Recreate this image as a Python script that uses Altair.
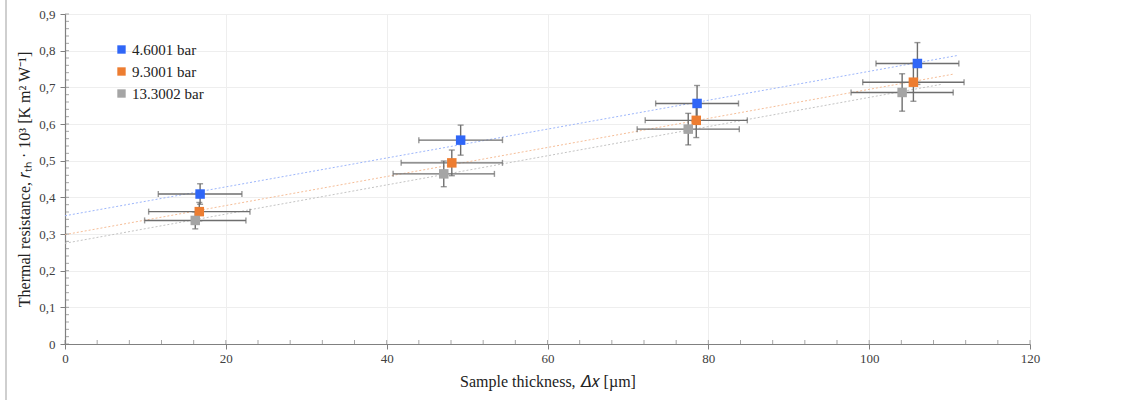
import altair as alt
import pandas as pd

# ---- data ----
series = ["4.6001 bar", "9.3001 bar", "13.3002 bar"]
colors = ["#2f66f7", "#ed7d31", "#a5a5a5"]
trend_colors = ["#9db6fb", "#f6be98", "#c4c4c4"]

thickness = {
    "4.6001 bar": [16.8, 49.2, 78.6, 106.0],
    "9.3001 bar": [16.7, 48.1, 78.5, 105.5],
    "13.3002 bar": [16.2, 47.1, 77.5, 104.1],
}
resistance = {
    "4.6001 bar": [0.409, 0.556, 0.656, 0.765],
    "9.3001 bar": [0.361, 0.494, 0.610, 0.714],
    "13.3002 bar": [0.337, 0.464, 0.586, 0.686],
}
x_err = {
    "4.6001 bar": [5.2, 5.2, 5.15, 5.15],
    "9.3001 bar": [6.3, 6.3, 6.35, 6.3],
    "13.3002 bar": [6.3, 6.3, 6.35, 6.35],
}
y_err = {
    "4.6001 bar": [0.028, 0.041, 0.049, 0.057],
    "9.3001 bar": [0.025, 0.035, 0.047, 0.052],
    "13.3002 bar": [0.023, 0.035, 0.043, 0.051],
}
trend_end = {"4.6001 bar": 111.0, "9.3001 bar": 110.5, "13.3002 bar": 109.1}

x_major = [0, 20, 40, 60, 80, 100, 120]
y_major = [0, 0.1, 0.2, 0.3, 0.4, 0.5, 0.6, 0.7, 0.8, 0.9]
x_minor = list(range(0, 121, 4))
y_minor = [round(i * 0.02, 2) for i in range(0, 46)]

rows = []
for s in series:
    for x, y, ex, ey in zip(thickness[s], resistance[s], x_err[s], y_err[s]):
        rows.append(dict(series=s, x=x, y=y, xlo=x - ex, xhi=x + ex, ylo=y - ey, yhi=y + ey))
df = pd.DataFrame(rows)

xs = alt.Scale(domain=[0, 120], nice=False, zero=False)
ys = alt.Scale(domain=[0, 0.9], nice=False, zero=False)
x_axis = alt.Axis(
    values=x_major, title="Sample thickness, 𝛥𝑥 [µm]", labelExpr="datum.value",
    labelOverlap=False, labelFlush=False,
)
y_axis = alt.Axis(
    values=y_major, labelOverlap=False, labelFlush=False,
    title="Thermal resistance, 𝑟ₜₕ · 10³ [K m² W⁻¹]",
    labelExpr="datum.value == 0 ? '0' : replace(format(datum.value, '.1f'), '.', ',')",
)


def X(f):
    return alt.X(f, scale=xs, axis=x_axis)


def Y(f):
    return alt.Y(f, scale=ys, axis=y_axis)


base = alt.Chart(df)
ERR = "#6e6e6e"

layers = []
# trend lines
for s, tc in zip(series, trend_colors):
    layers.append(
        base.transform_filter(alt.datum.series == s)
        .transform_regression("x", "y", extent=[0, trend_end[s]], method="linear")
        .mark_line(strokeDash=[2, 2], strokeWidth=1, color=tc)
        .encode(x=X("x:Q"), y=Y("y:Q"))
    )

# horizontal error bars
layers.append(base.mark_rule(color=ERR, strokeWidth=1.4).encode(
    x=X("xlo:Q"), x2="xhi:Q", y=Y("y:Q")))
for f in ["xlo", "xhi"]:
    layers.append(base.mark_tick(orient="vertical", color=ERR, size=6, thickness=1.4).encode(
        x=X(f + ":Q"), y=Y("y:Q")))
# vertical error bars
layers.append(base.mark_rule(color=ERR, strokeWidth=1.4).encode(
    x=X("x:Q"), y=Y("ylo:Q"), y2="yhi:Q"))
for f in ["ylo", "yhi"]:
    layers.append(base.mark_tick(orient="horizontal", color=ERR, size=6, thickness=1.4).encode(
        x=X("x:Q"), y=Y(f + ":Q")))

# points
points = base.mark_point(shape="square", filled=True, size=90, opacity=1).encode(
    x=X("x:Q"),
    y=Y("y:Q"),
    color=alt.Color(
        "series:N",
        scale=alt.Scale(domain=series, range=colors),
        sort=series,
        legend=alt.Legend(
            title=None, orient="none", legendX=49, legendY=28,
            symbolType="square", symbolSize=70, symbolStrokeWidth=0,
            labelFont="Liberation Serif", labelFontSize=15, labelColor="#222222",
            rowPadding=6, labelOffset=3,
        ),
    ),
)
layers.append(points)

# inner (minor) ticks on axes
xt = pd.DataFrame({"v": x_minor})
yt = pd.DataFrame({"v": y_minor})
layers.append(alt.Chart(xt).mark_tick(orient="vertical", size=4, thickness=1, color="#808080", yOffset=-2).encode(
    x=X("v:Q"), y=alt.datum(0, scale=ys, axis=y_axis)))
layers.append(alt.Chart(yt).mark_tick(orient="horizontal", size=4, thickness=1, color="#808080", xOffset=2).encode(
    y=Y("v:Q"), x=alt.datum(0, scale=xs, axis=x_axis)))

# page border line on the left
layers.append(alt.Chart(xt).mark_rule(color="#cfcfcf", strokeWidth=1.5).encode(
    x=alt.value(-59), y=alt.value(-14), y2=alt.value(386)))

chart = alt.layer(*layers).properties(
    width=965, height=330,
    autosize=alt.AutoSizeParams(type="none"),
    padding={"left": 65, "top": 14, "right": 102, "bottom": 57},
).configure_view(strokeWidth=0).configure_axis(
    grid=True, gridColor="#eeeeee", gridWidth=1,
    domainColor="#808080", domainWidth=1.2,
    tickColor="#808080", tickSize=5, tickWidth=1,
    labelFont="Liberation Sans Narrow", labelFontSize=13, labelColor="#404040",
    titleFont="Liberation Serif", titleFontSize=16, titleFontWeight="normal", titleColor="#222222",
).configure_axisX(labelPadding=3, titlePadding=8).configure_axisY(labelPadding=5, titlePadding=6)

chart.save("out.html", embed_options={"renderer": "svg", "actions": False})
